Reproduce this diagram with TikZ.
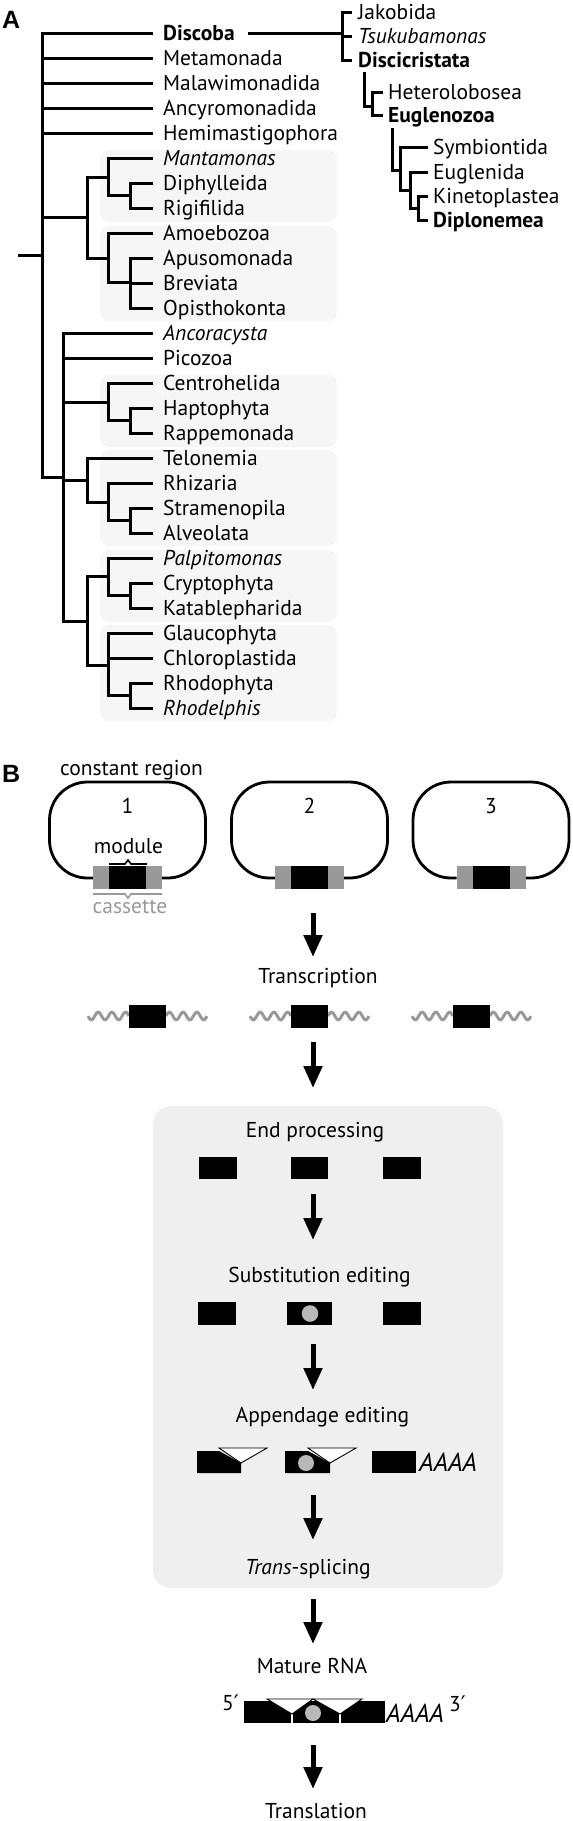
\documentclass[tikz,border=0pt]{standalone}
\usepackage{fontspec}
\setmainfont{PT Sans}
\newfontfamily\headfont{Liberation Sans}
\newfontfamily\primefont{DejaVu Sans}
\usetikzlibrary{arrows.meta}
\definecolor{boxA}{HTML}{F6F6F6}
\definecolor{boxB}{HTML}{EFEFEF}
\definecolor{cas}{HTML}{999999}
\definecolor{dot}{HTML}{B9B9B9}
\begin{document}
\begin{tikzpicture}[x=1pt,y=-1pt,
  every node/.style={inner sep=0pt},
  txt/.style={font=\fontsize{21.5}{25}\selectfont},
  leaf/.style={txt,anchor=base west},
  steplbl/.style={txt,anchor=base},
  tree/.style={line width=3pt,line join=miter},
  loopline/.style={line width=2.8pt,rounded corners=38pt},
  wave/.style={cas,line width=3pt},
  flow/.style={line width=5pt,-{Triangle[length=22pt,width=18pt]}},
  app/.style={fill=white,draw=black,line width=0.9pt,line join=miter},
  subst/.style={fill=dot},
  head/.style={anchor=base west,font=\headfont\bfseries\fontsize{25}{25}\selectfont}
]
\useasboundingbox (0,0) rectangle (573,1821);

% ---------------- Panel A ----------------
\node[head] (labA) at (2,28) {A};

\foreach \t/\b in {150/222, 226/321, 375/447, 450/546, 550/622, 625/721}
  \fill[boxA, rounded corners=9pt] (100,\t) rectangle (337,\b);

\foreach \i/\n/\t in {
  0/discoba/\textbf{Discoba},
  1/metamonada/Metamonada,
  2/malawi/Malawimonadida,
  3/ancyro/Ancyromonadida,
  4/hemi/Hemimastigophora,
  5/manta/\textit{Mantamonas},
  6/diphy/Diphylleida,
  7/rigi/Rigifilida,
  8/amoebo/Amoebozoa,
  9/apuso/Apusomonada,
  10/brevi/Breviata,
  11/opisto/Opisthokonta,
  12/ancora/\textit{Ancoracysta},
  13/pico/Picozoa,
  14/centro/Centrohelida,
  15/hapto/Haptophyta,
  16/rappe/Rappemonada,
  17/telo/Telonemia,
  18/rhiz/Rhizaria,
  19/stram/Stramenopila,
  20/alveo/Alveolata,
  21/palpi/\textit{Palpitomonas},
  22/crypto/Cryptophyta,
  23/katab/Katablepharida,
  24/glauco/Glaucophyta,
  25/chloro/Chloroplastida,
  26/rhodo/Rhodophyta,
  27/rhodel/\textit{Rhodelphis}}
  \node[leaf] (\n) at (163,{40.3+25*\i}) {\t};

% backbone
\draw[tree] (153,33) -- (42,33) -- (42,477) -- (63,477);
\foreach \y in {58,83,108,133} \draw[tree] (42,\y) -- (153,\y);
\draw[tree] (18,255) -- (42,255);
\draw[tree] (42,217) -- (87,217);
% Amorphea + CRuMs
\draw[tree] (108,177) -- (87,177) -- (87,258) -- (108,258);
\draw[tree] (153,158) -- (108,158) -- (108,195) -- (130,195);
\draw[tree] (153,183) -- (130,183) -- (130,208) -- (153,208);
\draw[tree] (153,233) -- (108,233) -- (108,282) -- (130,282);
\draw[tree] (153,258) -- (130,258) -- (130,308) -- (153,308);
\draw[tree] (130,283) -- (153,283);
% Diaphoretickes
\draw[tree] (153,333) -- (63,333) -- (63,621) -- (87,621);
\draw[tree] (63,358) -- (153,358);
\draw[tree] (63,402) -- (108,402);
\draw[tree] (63,480) -- (87,480);
\draw[tree] (153,383) -- (108,383) -- (108,420) -- (130,420);
\draw[tree] (153,408) -- (130,408) -- (130,433) -- (153,433);
\draw[tree] (153,458) -- (87,458) -- (87,502) -- (108,502);
\draw[tree] (153,483) -- (108,483) -- (108,520) -- (130,520);
\draw[tree] (153,508) -- (130,508) -- (130,533) -- (153,533);
\draw[tree] (108,576) -- (87,576) -- (87,665) -- (108,665);
\draw[tree] (153,558) -- (108,558) -- (108,595) -- (130,595);
\draw[tree] (153,583) -- (130,583) -- (130,608) -- (153,608);
\draw[tree] (153,633) -- (108,633) -- (108,695) -- (130,695);
\draw[tree] (108,658) -- (153,658);
\draw[tree] (153,683) -- (130,683) -- (130,708) -- (153,708);

% Discoba detail
\node[leaf] (jako) at (358,19.3) {Jakobida};
\node[leaf] (tsuku) at (358,43.3) {\textit{Tsukubamonas}};
\node[leaf] (discic) at (358,67.3) {\textbf{Discicristata}};
\node[leaf] (hetero) at (388,99.3) {Heterolobosea};
\node[leaf] (eugzoa) at (388,122.3) {\textbf{Euglenozoa}};
\node[leaf] (symb) at (433,154.3) {Symbiontida};
\node[leaf] (eugl) at (433,179.3) {Euglenida};
\node[leaf] (kine) at (433,203.3) {Kinetoplastea};
\node[leaf] (diplo) at (433,227.3) {\textbf{Diplonemea}};

\draw[tree] (248,33) -- (342,33);
\draw[tree] (352,12) -- (342,12) -- (342,60) -- (352,60);
\draw[tree] (342,36) -- (352,36);
\draw[tree] (364,72) -- (364,106) -- (372,106);
\draw[tree] (383,92) -- (372,92) -- (372,115) -- (383,115);
\draw[tree] (392,128) -- (392,170) -- (400,170);
\draw[tree] (428,147) -- (400,147) -- (400,190) -- (410,190);
\draw[tree] (428,172) -- (410,172) -- (410,208) -- (418,208);
\draw[tree] (428,196) -- (418,196) -- (418,220) -- (428,220);

% ---------------- Panel B ----------------
\node[head] (labB) at (2,782) {B};
\node[steplbl] (constreg) at (131.5,775) {constant region};

\foreach \c/\n in {127.5/1, 309.5/2, 491/3} {
  \draw[loopline] (\c+34.5,878) -- (\c+78,878) -- (\c+78,782) -- (\c-78,782) -- (\c-78,878) -- (\c-34.5,878);
  \fill[cas] (\c-34.5,866) rectangle (\c+34.5,889);
  \fill[black] (\c-18.5,866) rectangle (\c+18.5,889);
  \node[steplbl] at (\c,813) {\n};
}
\node[steplbl] (modlbl) at (128.5,853) {module};
\draw[line width=1.6pt] (109,864) -- (125,864) -- (128,860) -- (131,864) -- (147,864);
\draw[cas,line width=1.6pt] (93,894) -- (125,894) -- (128,898) -- (131,894) -- (162,894);
\node[steplbl,text=cas] (caslbl) at (130,913) {cassette};

\draw[flow] (313,913) -- (313,957);
\node[steplbl] (transc) at (318,983) {Transcription};

\foreach \c in {147.5,309.5,471.5} {
  \draw[wave] plot[domain=0:41,samples=80,smooth] ({\c-18.5-\x},{1016-3.8*sin(\x*360/13.7)});
  \draw[wave] plot[domain=0:41,samples=80,smooth] ({\c+18.5+\x},{1016-3.8*sin(\x*360/13.7)});
  \fill[black] (\c-18.5,1005) rectangle (\c+18.5,1028);
}
\draw[flow] (313,1042) -- (313,1088);

\fill[boxB, rounded corners=18pt] (153,1106) rectangle (503,1588);

\node[steplbl] (endp) at (315,1137) {End processing};
\fill[black] (199,1157) rectangle (237,1179);
\fill[black] (291,1157) rectangle (328,1179);
\fill[black] (383,1157) rectangle (421,1179);
\draw[flow] (313,1194) -- (313,1240);

\node[steplbl] (subed) at (319.5,1282) {Substitution editing};
\fill[black] (198,1302) rectangle (236,1325);
\fill[black] (287,1302) rectangle (332,1325);
\fill[subst] (310,1313.5) circle (8.3);
\fill[black] (383,1302) rectangle (421,1325);
\draw[flow] (313,1344) -- (313,1390);

\node[steplbl] (apped) at (322.5,1422) {Appendage editing};
\fill[black] (197,1451) -- (219,1451) -- (241,1463) -- (241,1473) -- (197,1473) -- cycle;
\draw[app] (219,1448) -- (267,1448) -- (241,1463) -- cycle;
\fill[black] (285,1451) -- (308,1451) -- (330,1463) -- (330,1473) -- (285,1473) -- cycle;
\fill[subst] (306,1463) circle (8);
\draw[app] (308,1448) -- (356,1448) -- (330,1463) -- cycle;
\fill[black] (372,1451) rectangle (416,1473);
\node[anchor=base west,font=\fontsize{26}{26}\selectfont\itshape] (polyA1) at (419,1471) {AAAA};
\draw[flow] (313,1495) -- (313,1540);

\node[steplbl] (transpl) at (308,1574) {\textit{Trans}-splicing};

\draw[flow] (313,1599) -- (313,1644);
\node[steplbl] (mature) at (312,1673) {Mature RNA};

\fill[black] (244,1701) rectangle (385,1723);
\draw[white,line width=2.5pt] (292,1714) -- (292,1724);
\draw[white,line width=2.5pt] (340,1714) -- (340,1724);
\fill[subst] (313,1713) circle (8);
\draw[app] (267,1699) -- (313,1699) -- (292,1714) -- cycle;
\draw[app] (313,1699) -- (362,1699) -- (340,1714) -- cycle;
\node[anchor=base east,txt] (five) at (239,1710) {5{\primefont ′}};
\node[anchor=base west,font=\fontsize{26}{26}\selectfont\itshape] (polyA2) at (386,1722) {AAAA};
\node[anchor=base west,txt] (three) at (449,1711) {3{\primefont ′}};

\draw[flow] (313,1745) -- (313,1789);
\node[steplbl] (transl) at (316,1818) {Translation};
\end{tikzpicture}
\end{document}
